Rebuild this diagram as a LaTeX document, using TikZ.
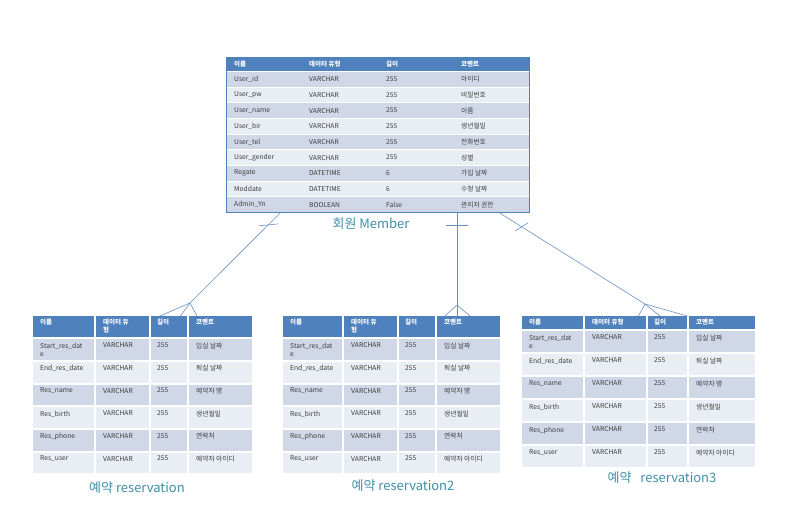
\documentclass[tikz,border=0pt]{standalone}
\usepackage{fontspec}
\setmainfont{Noto Sans CJK KR}
\usepackage{tikz}
\usetikzlibrary{positioning}
\definecolor{tabhead}{RGB}{79,129,189}
\definecolor{rowdark}{RGB}{208,216,232}
\definecolor{rowlight}{RGB}{233,237,244}
\definecolor{tabtext}{RGB}{60,60,60}
\definecolor{relline}{RGB}{105,145,200}
\definecolor{captext}{RGB}{62,142,168}

\begin{document}
\begin{tikzpicture}[x=1pt, y=1pt,
  font=\fontsize{6.7}{8}\selectfont,
  hcell/.style={rectangle, anchor=north west, fill=tabhead, inner sep=0pt},
  bcell/.style={rectangle, anchor=north west, inner sep=0pt},
  mrow/.style={rectangle, anchor=north west, inner sep=0pt, draw=white, line width=0.8pt,
               minimum width=303pt, minimum height=15.67pt},
  htxt/.style={inner sep=0pt, text=white, font=\fontsize{6.5}{7.5}\selectfont\bfseries, align=left},
  ctxt/.style={inner sep=0pt, text=tabtext, align=left},
  rel/.style={draw=relline, line width=0.6pt},
  captxt/.style={font=\fontsize{13}{15}\selectfont, text=captext}
]
\useasboundingbox (0,0) rectangle (785,-531);

% --- Member table ---
\node[mrow, fill=tabhead, minimum height=14pt] (m-h) at (226,-57) {};
\foreach \t/\dx [count=\j] in {이름/8, 데이터 유형/83, 길이/160, 코멘트/235}
  \node[htxt, right=\dx pt of m-h.west] (m-h\j) {\t};

\foreach \fname/\ftype/\flen/\fcom [count=\i] in {
    User\_id/VARCHAR/255/아이디,
    User\_pw/VARCHAR/255/비밀번호,
    User\_name/VARCHAR/255/이름,
    User\_bir/VARCHAR/255/생년월일,
    User\_tel/VARCHAR/255/전화번호,
    User\_gender/VARCHAR/255/성별,
    Regate/DATETIME/6/가입 날짜,
    Moddate/DATETIME/6/수정 날짜,
    Admin\_Yn/BOOLEAN/False/관리자 권한}
{
  \pgfmathsetmacro\ry{-71-15.67*(\i-1)}
  \ifodd\i\relax \def\rc{rowdark}\else \def\rc{rowlight}\fi
  \node[mrow, fill=\rc] (m-r\i) at (226,\ry) {};
  \node[ctxt, right=8pt of m-r\i.west] (m-r\i-1) {\fname};
  \node[ctxt, right=83pt of m-r\i.west] (m-r\i-2) {\ftype};
  \node[ctxt, right=160pt of m-r\i.west] (m-r\i-3) {\flen};
  \node[ctxt, right=235pt of m-r\i.west] (m-r\i-4) {\fcom};
}
\node[draw=tabhead, line width=1.2pt, anchor=north west, inner sep=0pt,
      minimum width=303pt, minimum height=155pt] (member) at (226,-57) {};
\node[captxt] (cap-m) at (371,-224) {회원 Member};

% --- Reservation tables ---
\foreach \tb/\x/\cwa/\cwb/\cwc/\cwd/\hh/\rh/\hd in {
    r1/33/61/53/36/63/21/20.67/{데이터 유\\형},
    r2/283/59/53/36/63/21/20.67/{데이터 유\\형},
    r3/522/61/61/39/66/13/21/{데이터 유형}}
{
  \pgfmathsetmacro\xb{\x+\cwa+2}
  \pgfmathsetmacro\xc{\xb+\cwb+2}
  \pgfmathsetmacro\xd{\xc+\cwc+2}
  \node[hcell, minimum width=\cwa pt, minimum height=\hh pt] (\tb-h1) at (\x,-316) {};
  \node[hcell, minimum width=\cwb pt, minimum height=\hh pt] (\tb-h2) at (\xb,-316) {};
  \node[hcell, minimum width=\cwc pt, minimum height=\hh pt] (\tb-h3) at (\xc,-316) {};
  \node[hcell, minimum width=\cwd pt, minimum height=\hh pt] (\tb-h4) at (\xd,-316) {};
  \node[htxt, below right=3pt and 7pt of \tb-h1.north west] (\tb-t0-1) {이름};
  \node[htxt, below right=3pt and 7pt of \tb-h2.north west] (\tb-t0-2) {\hd};
  \node[htxt, below right=3pt and 6pt of \tb-h3.north west] (\tb-t0-3) {길이};
  \node[htxt, below right=3pt and 7pt of \tb-h4.north west] (\tb-t0-4) {코멘트};
  \foreach \fname/\ftype/\flen/\fcom [count=\i] in {
      {Start\_res\_dat\\e}/VARCHAR/255/입실 날짜,
      End\_res\_date/VARCHAR/255/퇴실 날짜,
      Res\_name/VARCHAR/255/예약자 명,
      Res\_birth/VARCHAR/255/생년월일,
      Res\_phone/VARCHAR/255/연락처,
      Res\_user/VARCHAR/255/예약자 아이디}
  {
    \pgfmathsetmacro\ry{-318-\hh-(\i-1)*(\rh+2)}
    \ifodd\i\relax \def\rc{rowdark}\else \def\rc{rowlight}\fi
    \node[bcell, fill=\rc, minimum width=\cwa pt, minimum height=\rh pt] (\tb-r\i-1) at (\x,\ry) {};
    \node[bcell, fill=\rc, minimum width=\cwb pt, minimum height=\rh pt] (\tb-r\i-2) at (\xb,\ry) {};
    \node[bcell, fill=\rc, minimum width=\cwc pt, minimum height=\rh pt] (\tb-r\i-3) at (\xc,\ry) {};
    \node[bcell, fill=\rc, minimum width=\cwd pt, minimum height=\rh pt] (\tb-r\i-4) at (\xd,\ry) {};
    \node[ctxt, below right=3.5pt and 7pt of \tb-r\i-1.north west] (\tb-t\i-1) {\fname};
    \node[ctxt, below right=3.5pt and 7pt of \tb-r\i-2.north west] (\tb-t\i-2) {\ftype};
    \node[ctxt, below right=3.5pt and 6pt of \tb-r\i-3.north west] (\tb-t\i-3) {\flen};
    \node[ctxt, below right=3.5pt and 7pt of \tb-r\i-4.north west] (\tb-t\i-4) {\fcom};
  }
}
\node[captxt] (cap-r1) at (137,-488) {예약 reservation};
\node[captxt] (cap-r2) at (403,-486) {예약 reservation2};
\node[captxt] (cap-r3) at (662,-478) {예약\hspace{6pt} reservation3};

% --- Relations (one-to-many) ---
\coordinate (fk1) at (190,-303);
\coordinate (fk2) at (457,-305);
\coordinate (fk3) at (645,-304);

\draw[rel] ([xshift=54pt]member.south west) -- coordinate[pos=.13] (tk1) (fk1);
\draw[rel] ([xshift=-10pt,yshift=-1pt]tk1) -- ([xshift=10pt,yshift=1pt]tk1);
\draw[rel] (fk1) -- ([xshift=9pt]r1-h3.north west);
\draw[rel] (fk1) -- ([xshift=-7pt]r1-h3.north east);
\draw[rel] (fk1) -- ([xshift=8pt]r1-h4.north west);

\draw[rel] ([xshift=231pt]member.south west) -- coordinate[pos=.13] (tk2) (fk2);
\draw[rel] ([xshift=-11pt]tk2) -- ([xshift=11pt]tk2);
\draw[rel] (fk2) -- ([xshift=8pt]r2-h4.north west);
\draw[rel] (fk2) -- ([xshift=20pt]r2-h4.north west);
\draw[rel] (fk2) -- ([xshift=33pt]r2-h4.north west);

\draw[rel] ([xshift=274pt]member.south west) -- coordinate[pos=.15] (tk3) (fk3);
\draw[rel] ([xshift=-6.5pt,yshift=-4pt]tk3) -- ([xshift=6.5pt,yshift=4pt]tk3);
\draw[rel] (fk3) -- ([xshift=-8pt]r3-h2.north east);
\draw[rel] (fk3) -- ([xshift=12pt]r3-h3.north west);
\draw[rel] (fk3) -- (r3-h3.north east);

\end{tikzpicture}
\end{document}
